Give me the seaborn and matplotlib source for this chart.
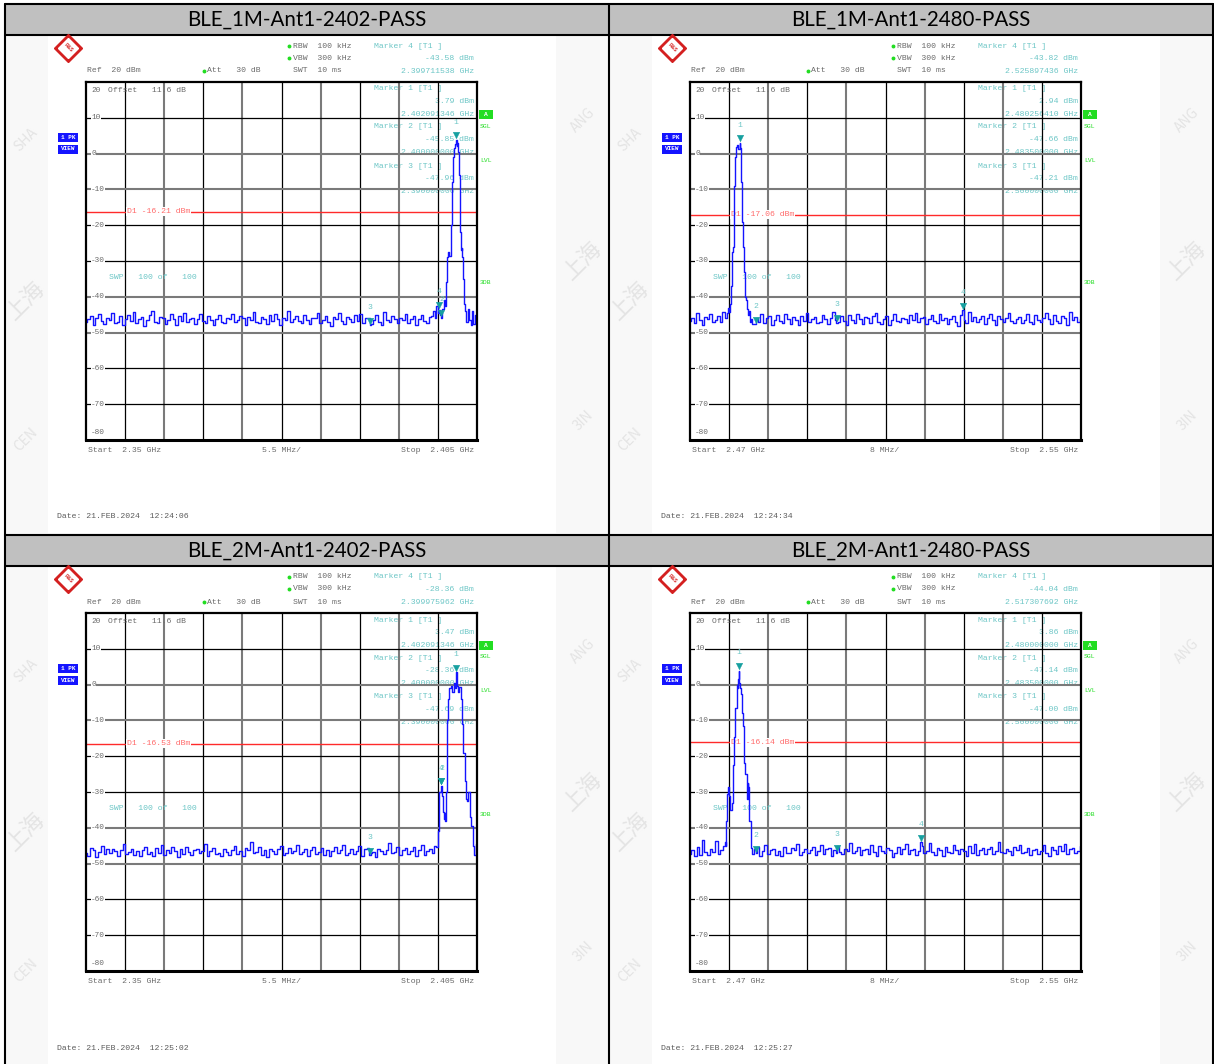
import numpy as np
import matplotlib
matplotlib.use("Agg")
import matplotlib.pyplot as plt
import seaborn as sns
from matplotlib.patches import Rectangle

W, H = 1214, 1064
MONO = "Liberation Mono"
GRAY_TXT = "#6a6a6a"
TEAL_TXT = "#6cc6c6"
TEAL_MK = "#16a0a0"
GREEN = "#22dd22"
BLUE = "#1414ff"
RED = "#ff2a2a"

# ---------------- data ----------------
titles = ["BLE_1M-Ant1-2402-PASS", "BLE_1M-Ant1-2480-PASS",
          "BLE_2M-Ant1-2402-PASS", "BLE_2M-Ant1-2480-PASS"]
dates = ["Date: 21.FEB.2024  12:24:06", "Date: 21.FEB.2024  12:24:34",
         "Date: 21.FEB.2024  12:25:02", "Date: 21.FEB.2024  12:25:27"]
start_ghz = [2.35, 2.47, 2.35, 2.47]
stop_ghz = [2.405, 2.55, 2.405, 2.55]
start_txt = ["Start  2.35 GHz", "Start  2.47 GHz", "Start  2.35 GHz", "Start  2.47 GHz"]
stop_txt = ["Stop  2.405 GHz", "Stop  2.55 GHz", "Stop  2.405 GHz", "Stop  2.55 GHz"]
div_txt = ["5.5 MHz/", "8 MHz/", "5.5 MHz/", "8 MHz/"]
d1_dbm = [-16.21, -17.06, -16.53, -16.14]

# marker order: 4, 1, 2, 3
marker_ids = [4, 1, 2, 3]
mk_f_1 = [2.399711538, 2.402091346, 2.400000000, 2.390000000]
mk_db_1 = [-43.58, 3.79, -45.85, -47.96]
mk_f_2 = [2.525897436, 2.480256410, 2.483500000, 2.500000000]
mk_db_2 = [-43.82, 2.94, -47.66, -47.21]
mk_f_3 = [2.399975962, 2.402091346, 2.400000000, 2.390000000]
mk_db_3 = [-28.36, 3.47, -28.36, -47.69]
mk_f_4 = [2.517307692, 2.480000000, 2.483500000, 2.500000000]
mk_db_4 = [-44.04, 3.86, -47.14, -47.00]

# sweep noise floor (levels in dBm, uniformly spaced sweep points)
noise_lo_1 = [
    -47.1, -46.2, -45.3, -47.8, -46.0, -44.9, -46.7, -47.5, -45.8, -46.4,
    -44.6, -47.2, -46.9, -45.5, -47.9, -46.1, -45.0, -46.8, -44.2, -47.4,
    -46.3, -45.7, -48.1, -46.6, -45.2, -43.9, -46.9, -47.3, -45.6, -46.0,
    -47.7, -46.4, -44.8, -46.2, -47.9, -45.4, -46.7, -44.5, -47.0, -46.3,
    -45.9, -47.6, -46.1, -44.7, -46.8, -47.2, -45.3, -46.5, -48.0, -46.2,
    -45.1, -46.9, -47.4, -45.8, -46.3, -44.9, -47.1, -46.6, -45.4, -46.0,
    -47.8, -45.6, -46.4, -44.3, -46.9, -47.3, -45.7, -46.1, -47.5, -45.2,
    -46.7, -44.8, -46.3, -47.9, -45.9, -46.5, -44.1, -47.0, -46.2, -45.5,
    -46.8, -47.4, -45.1, -46.6, -47.7, -45.8, -46.0, -44.6, -47.2, -46.4,
    -45.3, -46.9, -48.2, -45.7, -46.1, -44.4, -46.8, -47.5, -45.6, -46.3,
    -47.0, -45.2, -46.7, -44.9, -47.3, -46.0, -45.8, -47.6, -46.4, -45.1,
    -46.9, -47.8, -44.2, -46.5, -47.1, -45.4, -46.2, -47.4, -45.9, -46.6,
    -44.7, -47.2, -46.1, -45.5, -47.9, -46.3, -45.0, -46.8, -47.3, -45.7]
peak_f_1 = [2.3986, 2.3989, 2.3992, 2.3994, 2.3996, 2.3999, 2.4002, 2.4004,
            2.4006, 2.4007, 2.4008, 2.4010, 2.4012, 2.4014, 2.4016, 2.4017,
            2.4018, 2.4020, 2.4022, 2.4023, 2.4024, 2.4025, 2.4026, 2.4027,
            2.4028, 2.4029, 2.4030, 2.4031, 2.4032, 2.4034, 2.4036, 2.4038,
            2.4040, 2.4042, 2.4044, 2.4046, 2.4048, 2.4050]
peak_db_1 = [-45.5, -44.0, -46.0, -42.5, -44.5, -45.0, -43.5, -41.0,
             -42.5, -36.0, -29.0, -27.5, -28.5, -20.0, -8.0, -1.0,
             1.5, 2.8, 2.2, 3.0, 0.5, -6.0, -14.0, -22.0,
             -27.0, -26.5, -29.0, -35.0, -42.0, -44.0, -47.0, -43.5,
             -46.5, -48.0, -44.0, -47.5, -45.0, -47.0]
noise_hi_1 = []

noise_lo_2 = [-46.8, -45.9, -47.3, -44.6, -46.4, -47.8, -45.7, -46.2,
              -44.9, -47.0, -46.5, -45.3, -46.9, -44.2, -45.8]
peak_f_2 = [2.4776, 2.4779, 2.4781, 2.4783, 2.4785, 2.4786, 2.4787, 2.4789,
            2.4790, 2.4792, 2.4794, 2.4796, 2.4798, 2.4800, 2.4804, 2.4806,
            2.4807, 2.4808, 2.4809, 2.4811, 2.4813, 2.4815, 2.4817, 2.4819,
            2.4821, 2.4823]
peak_db_2 = [-44.5, -43.0, -44.2, -42.0, -37.0, -30.0, -27.5, -26.0,
             -18.0, -9.0, -1.0, 1.8, 2.4, 1.2, 1.5, -8.0,
             -19.0, -25.5, -26.0, -33.0, -40.0, -41.0, -43.5, -45.0,
             -44.0, -47.0]
noise_hi_2 = [
    -46.3, -47.5, -45.8, -46.9, -44.7, -47.2, -46.0, -45.4, -47.8, -46.6,
    -45.1, -46.8, -47.3, -44.9, -46.2, -47.6, -45.7, -46.4, -48.0, -45.3,
    -46.7, -44.5, -47.0, -46.1, -45.6, -47.4, -46.9, -45.2, -46.3, -47.7,
    -45.9, -44.3, -46.6, -47.1, -45.5, -46.8, -47.9, -45.0, -46.4, -47.3,
    -44.8, -46.2, -47.6, -45.7, -46.0, -47.2, -45.4, -44.6, -46.9, -47.5,
    -46.1, -45.3, -47.8, -46.5, -44.9, -46.7, -47.0, -45.8, -46.3, -47.4,
    -45.1, -46.6, -44.4, -47.1, -46.0, -45.6, -47.7, -46.2, -45.2, -46.8,
    -47.3, -44.7, -46.4, -45.9, -47.6, -46.1, -45.5, -46.9, -48.1, -45.0,
    -46.5, -47.2, -44.2, -46.7, -45.7, -47.0, -46.3, -45.4, -47.5, -46.0,
    -44.8, -46.6, -47.9, -45.3, -46.2, -47.1, -45.8, -44.5, -46.8, -47.4,
    -46.1, -45.6, -47.3, -46.4, -44.9, -46.9, -47.7, -45.2, -46.5, -47.0,
    -45.9, -44.6, -46.3, -47.6, -45.1, -46.7, -47.2, -45.5, -46.0, -47.8,
    -44.3, -46.6, -45.7, -47.1, -46.2]

noise_lo_3 = [
    -46.9, -47.8, -45.6, -46.3, -48.1, -46.7, -45.2, -47.4, -46.0, -47.1,
    -45.8, -46.5, -47.9, -46.2, -44.6, -47.3, -46.8, -45.9, -47.6, -46.4,
    -48.0, -46.1, -45.4, -47.2, -46.7, -47.8, -45.7, -46.9, -44.9, -47.5,
    -46.3, -47.0, -45.5, -46.6, -48.2, -46.0, -47.4, -45.3, -46.8, -47.7,
    -46.2, -45.8, -47.1, -46.5, -44.4, -47.9, -46.4, -45.6, -47.3, -46.9,
    -48.0, -45.9, -46.7, -47.5, -46.1, -45.2, -47.2, -46.6, -47.8, -45.7,
    -46.3, -43.9, -47.0, -46.8, -45.4, -47.6, -46.2, -48.1, -45.8, -46.5,
    -47.3, -46.0, -45.1, -47.7, -46.9, -45.6, -47.1, -46.4, -44.8, -47.4,
    -46.7, -45.9, -47.9, -46.3, -45.3, -47.2, -46.8, -45.7, -47.5, -46.1,
    -48.0, -46.6, -45.5, -47.0, -46.2, -44.7, -47.6, -46.9, -45.8, -47.3,
    -46.4, -45.2, -47.8, -46.0, -45.6, -47.1, -46.7, -48.2, -45.9, -46.5,
    -47.4, -46.3, -44.2, -47.0, -46.8, -45.4, -47.7, -46.1, -45.7, -47.2,
    -46.6, -45.3, -47.9, -46.2, -44.9, -47.5, -46.4, -45.8, -46.9, -45.1]
peak_f_3 = [2.3994, 2.3996, 2.3998, 2.4002, 2.4003, 2.4004, 2.4005, 2.4006,
            2.4007, 2.4008, 2.4009, 2.4010, 2.4012, 2.4014, 2.4016, 2.4018,
            2.4020, 2.4022, 2.4024, 2.4026, 2.4028, 2.4030, 2.4032, 2.4034,
            2.4035, 2.4037, 2.4039, 2.4041, 2.4043, 2.4045, 2.4047, 2.4049,
            2.4050]
peak_db_3 = [-45.5, -41.0, -30.0, -31.0, -35.5, -37.5, -36.0, -38.0,
             -30.0, -19.0, -10.0, -4.0, -1.0, -0.5, -2.0, 0.5,
             -1.0, -0.5, -2.0, -0.8, -4.0, -11.0, -19.0, -27.0,
             -32.0, -32.5, -30.0, -37.0, -39.5, -45.0, -47.5, -44.5,
             -47.0]
noise_hi_3 = []

noise_lo_4 = [-47.3, -46.1, -48.0, -45.4, -47.5, -43.5, -46.8, -47.6,
              -45.9, -46.7, -43.8, -47.2, -46.3, -45.0]
peak_f_4 = [2.4772, 2.4774, 2.4775, 2.4777, 2.4778, 2.4780, 2.4784, 2.4786,
            2.4789, 2.4791, 2.4794, 2.4797, 2.4798, 2.4799, 2.4802, 2.4804,
            2.4805, 2.4807, 2.4810, 2.4812, 2.4815, 2.4817, 2.4818, 2.4819,
            2.4820, 2.4823, 2.4826]
peak_db_4 = [-44.0, -45.0, -38.0, -30.5, -28.5, -31.0, -35.0, -33.0,
             -22.5, -14.5, -6.5, 0.0, -1.0, 1.5, 0.5, -1.0,
             -2.5, -7.9, -11.5, -21.8, -25.0, -31.8, -32.0, -27.4,
             -28.5, -38.2, -45.6]
noise_hi_4 = [
    -47.2, -46.0, -45.5, -47.8, -46.6, -44.9, -47.3, -46.2, -45.8, -47.6,
    -46.4, -48.0, -45.3, -46.9, -47.1, -45.7, -46.3, -44.4, -47.5, -46.8,
    -45.9, -47.0, -46.1, -45.4, -47.7, -46.5, -44.7, -47.2, -46.0, -45.6,
    -47.9, -46.3, -45.1, -46.8, -47.4, -45.8, -46.6, -44.2, -47.1, -46.4,
    -45.5, -47.6, -46.2, -45.9, -47.3, -44.8, -46.7, -47.8, -45.2, -46.5,
    -47.0, -45.7, -46.1, -48.1, -46.9, -45.3, -47.4, -46.0, -44.6, -47.2,
    -46.3, -45.8, -47.7, -46.6, -45.0, -47.1, -46.4, -44.3, -46.8, -47.5,
    -45.6, -46.2, -47.9, -45.4, -46.7, -47.0, -44.9, -46.1, -47.3, -45.9,
    -46.5, -47.8, -45.2, -46.9, -44.5, -47.6, -46.3, -45.7, -47.2, -46.0,
    -45.5, -47.4, -46.6, -44.1, -46.8, -47.1, -45.8, -46.4, -47.7, -45.3,
    -46.2, -44.7, -47.0, -46.7, -45.6, -47.5, -46.1, -45.9, -47.3, -46.5,
    -44.8, -46.9, -47.8, -45.4, -46.3, -47.2, -45.1, -46.6, -44.6, -47.4,
    -46.0, -45.7, -47.0, -46.4, -45.2]

# frequency end points of the noise sweeps (lo: start..a, hi: b..stop)
noise_lo_end = [2.3984, 2.4774, 2.3992, 2.4770]
noise_hi_begin = [None, 2.4825, None, 2.4828]

panels = [
    (noise_lo_1, peak_f_1, peak_db_1, noise_hi_1, mk_f_1, mk_db_1),
    (noise_lo_2, peak_f_2, peak_db_2, noise_hi_2, mk_f_2, mk_db_2),
    (noise_lo_3, peak_f_3, peak_db_3, noise_hi_3, mk_f_3, mk_db_3),
    (noise_lo_4, peak_f_4, peak_db_4, noise_hi_4, mk_f_4, mk_db_4),
]
offsets = [(0, 0), (604, 0), (0, 531), (604, 531)]
ylevels = [10, 0, -10, -20, -30, -40, -50, -60, -70]
hgrid_col = ["k", "g", "g", "k", "k", "g", "g", "k", "k"]

sns.set_style("white")
plt.rcParams["font.family"] = ["Liberation Sans", "DejaVu Sans"]

fig = plt.figure(figsize=(W / 100, H / 100), dpi=100)
bg = fig.add_axes([0, 0, 1, 1], zorder=0)
bg.set_xlim(0, W)
bg.set_ylim(H, 0)
bg.axis("off")


def put(x, y, s, color=GRAY_TXT, ha="left", size=5.9, **kw):
    bg.text(x, y, s, color=color, ha=ha, va="center", fontsize=size,
            family=MONO, zorder=3, **kw)


# page background and title bars
for ox, oy in offsets:
    bg.add_patch(Rectangle((5 + ox, 35 + oy), 604, 500, fc="#f8f8f8", ec="none", zorder=0))
    bg.add_patch(Rectangle((5 + ox, 4 + oy), 604, 31, fc="#c0c0c0", ec="none", zorder=0))
    # faint watermark in the page margins (under the screenshot)
    for wx, wy, s, fs in ((26, 140, "SHA", 10), (26, 300, "上海", 16), (26, 440, "CEN", 10),
                          (583, 120, "ANG", 10), (583, 260, "上海", 16), (583, 420, "3IN", 10)):
        bg.text(wx + ox, wy + oy, s, rotation=45, fontsize=fs, color="#e4e4e4",
                family=["Noto Sans CJK SC", "DejaVu Sans"], ha="center", va="center",
                zorder=0.5)
    bg.add_patch(Rectangle((48 + ox, 36 + oy), 508, 497, fc="white", ec="none", zorder=1))

# frame lines
for y in (4, 35, 535, 566):
    bg.plot([5, 1213], [y, y], color="black", lw=1.5, zorder=2)
for x in (5, 609, 1213):
    bg.plot([x, x], [4, H], color="black", lw=1.5, zorder=2)

for k, (ox, oy) in enumerate(offsets):
    noise_lo, pk_f, pk_db, noise_hi, mk_f, mk_db = panels[k]
    f0, f1 = start_ghz[k], stop_ghz[k]

    bg.text(307 + ox, 20 + oy, titles[k], ha="center", va="center", fontsize=14.8,
            family=["Lato", "DejaVu Sans"], color="black", zorder=3)

    # R&S logo
    bg.plot(68 + ox, 48 + oy, marker="D", ms=14, mfc="#d42020", mec="#d42020", zorder=3)
    bg.plot(68 + ox, 48 + oy, marker="D", ms=10, mfc="white", mec="white", zorder=3)
    bg.text(68 + ox, 48 + oy, "R&S", fontsize=3.6, color="#d42020", weight="bold",
            ha="center", va="center", rotation=-45, zorder=4)

    # header
    for yy, s in ((46, "RBW  100 kHz"), (58, "VBW  300 kHz")):
        bg.plot(289 + ox, yy + oy, "o", ms=1.8, color=GREEN, zorder=3)
        put(293 + ox, yy + oy, s)
    put(87 + ox, 71 + oy, "Ref  20 dBm")
    bg.plot(204 + ox, 71 + oy, "o", ms=1.8, color=GREEN, zorder=3)
    put(207 + ox, 71 + oy, "Att   30 dB")
    put(293 + ox, 71 + oy, "SWT  10 ms")

    # marker readouts
    rows_y = [46, 89, 127, 166]
    for mid, f, db, ry in zip(marker_ids, mk_f, mk_db, rows_y):
        put(374 + ox, ry + oy, f"Marker {mid} [T1 ]", color=TEAL_TXT)
        put(474 + ox, ry + 12.5 + oy, f"{db:.2f} dBm", color=TEAL_TXT, ha="right")
        put(474 + ox, ry + 25.5 + oy, f"{f:.9f} GHz", color=TEAL_TXT, ha="right")

    # side labels
    for yy, s in ((133, "1 PK"), (144.5, "VIEW")):
        bg.add_patch(Rectangle((58 + ox, yy + oy), 20, 9, fc=BLUE, ec="none", zorder=3))
        bg.text(68 + ox, yy + 4.5 + oy, s, color="white", fontsize=4.3, family=MONO,
                weight="bold", ha="center", va="center", zorder=4)
    bg.add_patch(Rectangle((479 + ox, 109.5 + oy), 14, 9.5, fc=GREEN, ec="none", zorder=3))
    bg.text(486 + ox, 114.5 + oy, "A", color="white", fontsize=4.5, family=MONO,
            weight="bold", ha="center", va="center", zorder=4)
    for yy, s in ((126, "SGL"), (160, "LVL"), (283, "3DB")):
        put(480 + ox, yy + oy, s, color=GREEN, size=4.6)

    # footer
    put(88 + ox, 450.5 + oy, start_txt[k])
    put(281 + ox, 450.5 + oy, div_txt[k], ha="center")
    put(474 + ox, 450.5 + oy, stop_txt[k], ha="right")
    put(57 + ox, 517 + oy, dates[k], color="#5a5a5a")

    # ---- spectrum plot ----
    ax = fig.add_axes([(86 + ox) / W, 1 - (440 + oy) / H, 391 / W, 358 / H], zorder=2)
    ax.set_facecolor("none")
    ax.set_xlim(f0, f1)
    ax.set_ylim(-80, 20)

    for i in range(1, 10):
        fx = f0 + i * (f1 - f0) / 10
        if i % 2:
            ax.axvline(fx, color="black", lw=0.9, zorder=1)
        else:
            ax.axvline(fx, color="#7a7a7a", lw=1.5, zorder=1)
    for v, c in zip(ylevels, hgrid_col):
        if c == "k":
            ax.axhline(v, color="black", lw=0.9, zorder=1)
        else:
            ax.axhline(v, color="#7a7a7a", lw=1.5, zorder=1)

    ytr = ax.get_yaxis_transform()
    for v in ylevels:
        ax.text(0.013, v, str(v), transform=ytr, fontsize=5.6, family=MONO, color=GRAY_TXT,
                ha="left", va="center", zorder=2,
                bbox=dict(fc="white", ec="none", pad=0.3))
    ax.text(0.013, 17.6, "20", transform=ytr, fontsize=5.6, family=MONO, color=GRAY_TXT,
            va="center", zorder=2)
    ax.text(0.013, -78.0, "-80", transform=ytr, fontsize=5.6, family=MONO, color=GRAY_TXT,
            va="center", zorder=2)
    ax.text(0.056, 17.6, "Offset   11.6 dB", transform=ytr, fontsize=5.9, family=MONO,
            color=GRAY_TXT, va="center", zorder=2)
    ax.text(0.059, -34.5, "SWP   100 of   100", transform=ytr, fontsize=5.9, family=MONO,
            color=TEAL_TXT, va="center", zorder=2)

    # display line
    ax.axhline(d1_dbm[k], color=RED, lw=1.0, zorder=2)
    ax.text(0.105, d1_dbm[k], f"D1 {d1_dbm[k]:.2f} dBm", transform=ytr, fontsize=5.9,
            family=MONO, color="#ff6a6a", va="center", zorder=2,
            bbox=dict(fc="white", ec="none", pad=0.6))

    # trace: noise sweeps + signal + marker points
    freq = list(np.linspace(f0, noise_lo_end[k], len(noise_lo)))
    lev = list(noise_lo)
    freq += list(pk_f)
    lev += list(pk_db)
    if noise_hi:
        freq += list(np.linspace(noise_hi_begin[k], f1, len(noise_hi)))
        lev += list(noise_hi)
    freq += list(mk_f)
    lev += list(mk_db)
    order = np.argsort(freq, kind="stable")
    freq = np.array(freq)[order]
    lev = np.array(lev)[order]
    sns.lineplot(x=freq, y=lev, ax=ax, color=BLUE, lw=1.0, sort=False,
                 estimator=None, drawstyle="steps-mid", zorder=3)

    # marker symbols
    sns.scatterplot(x=mk_f, y=np.array(mk_db) + 1.3, ax=ax, marker="v", s=22,
                    color=TEAL_MK, edgecolor=TEAL_MK, linewidth=0.3, zorder=4)
    for mid, f, db in zip(marker_ids, mk_f, mk_db):
        ax.text(f, db + 5.0, str(mid), fontsize=5.9, family=MONO, color=TEAL_TXT,
                ha="center", va="center", zorder=4)

    ax.set_xticks([])
    ax.set_yticks([])
    ax.set_xlabel("")
    ax.set_ylabel("")
    for name, sp in ax.spines.items():
        sp.set_visible(True)
        sp.set_color("black")
        sp.set_linewidth(2.2 if name == "bottom" else 1.6)
        sp.set_zorder(5)

fig.savefig("out.png", dpi=100)
